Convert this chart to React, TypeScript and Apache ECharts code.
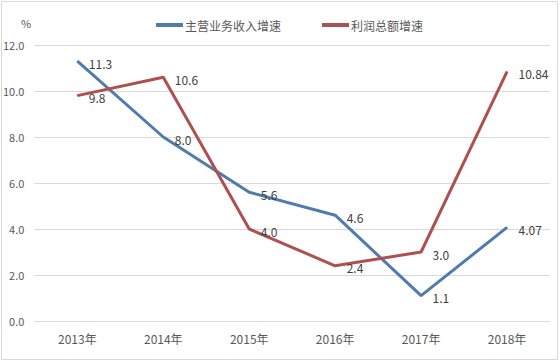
import React, { useEffect, useRef } from "react";
import * as echarts from "echarts";

const categories = ["2013年", "2014年", "2015年", "2016年", "2017年", "2018年"];
const revenueGrowth = [11.3, 8.0, 5.6, 4.6, 1.1, 4.07];
const profitGrowth = [9.8, 10.6, 4.0, 2.4, 3.0, 10.84];
const seriesNames = ["主营业务收入增速", "利润总额增速"];

const FONT = "'Noto Sans CJK SC', 'Noto Sans', sans-serif";
const fmt = (v: number) => (String(v).includes(".") ? String(v) : v.toFixed(1));

export default function App() {
  const ref = useRef<HTMLDivElement>(null);
  useEffect(() => {
    document.body.style.margin = "0";
    const chart = echarts.init(ref.current!, null, { renderer: "svg" });
    const label = {
      show: true,
      position: "right" as const,
      distance: 11,
      offset: [0, 2],
      color: "#404040",
      fontSize: 12,
      fontFamily: FONT,
      formatter: (p: any) => fmt(p.value),
    };
    chart.setOption({
      animation: false,
      backgroundColor: "#ffffff",
      textStyle: { fontFamily: FONT },
      title: {
        text: "%",
        left: 16,
        top: 12,
        textStyle: { fontSize: 11, fontWeight: "normal", color: "#595959", fontFamily: FONT },
      },
      legend: {
        left: 151,
        top: 14,
        icon: "rect",
        itemWidth: 27,
        itemHeight: 4,
        itemGap: 41,
        textStyle: { fontSize: 12, color: "#595959", fontFamily: FONT, padding: [0, 0, 0, -3] },
        data: seriesNames,
      },
      grid: { left: 34, right: 10, top: 45, bottom: 41, containLabel: false },
      xAxis: {
        type: "category",
        data: categories,
        boundaryGap: true,
        axisLine: { show: true, lineStyle: { color: "#d9d9d9", width: 1 } },
        axisTick: { show: false },
        axisLabel: { color: "#595959", fontSize: 12, margin: 11, fontFamily: FONT },
      },
      yAxis: {
        type: "value",
        min: 0,
        max: 12,
        interval: 2,
        axisLine: { show: false },
        axisTick: { show: false },
        splitLine: { lineStyle: { color: "#d9d9d9", width: 1 } },
        axisLabel: {
          color: "#595959",
          fontSize: 11,
          margin: 10,
          fontFamily: FONT,
          formatter: (v: number) => v.toFixed(1),
        },
      },
      graphic: [
        {
          type: "rect",
          shape: { x: 1.5, y: 1.5, width: 556, height: 358 },
          style: { fill: "none", stroke: "#d9d9d9", lineWidth: 1 },
          silent: true,
          z: -1,
        },
      ],
      series: [
        {
          name: seriesNames[0],
          type: "line",
          data: revenueGrowth,
          color: "#4f7bae",
          symbol: "circle",
          symbolSize: 1,
          lineStyle: { width: 3, color: "#4f7bae" },
          label,
        },
        {
          name: seriesNames[1],
          type: "line",
          data: profitGrowth,
          color: "#ae4f50",
          symbol: "circle",
          symbolSize: 1,
          lineStyle: { width: 3, color: "#ae4f50" },
          label,
        },
      ],
    });
    return () => chart.dispose();
  }, []);
  return <div ref={ref} style={{ width: 560, height: 362 }} />;
}
